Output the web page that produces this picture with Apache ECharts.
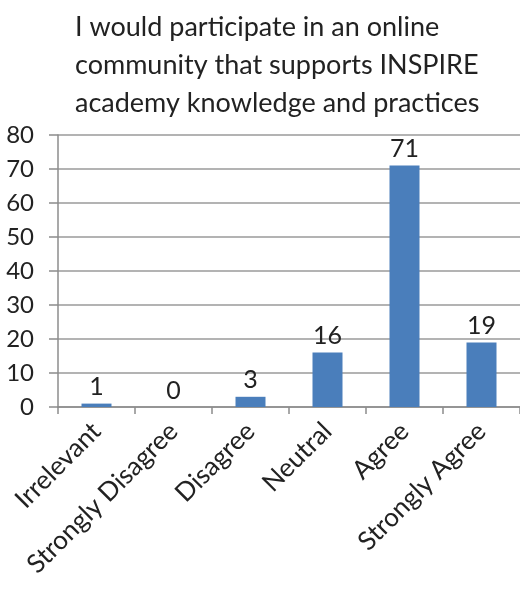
<!DOCTYPE html>
<html>
<head>
<meta charset="utf-8">
<script src="https://cdn.jsdelivr.net/npm/echarts@6/dist/echarts.min.js"></script>
<style>
  html, body { margin: 0; padding: 0; background: #fff; }
  #chart { width: 520px; height: 593px; }
</style>
</head>
<body>
<div id="chart"></div>
<script>
// Survey responses per answer option
const categories = ['Irrelevant', 'Strongly Disagree', 'Disagree', 'Neutral', 'Agree', 'Strongly Agree'];
const responses = [1, 0, 3, 16, 71, 19];
const yTicks = { min: 0, max: 80, interval: 10 };
const titleLines = [
  'I would participate in an online',
  'community that supports INSPIRE',
  'academy knowledge and practices'
];

const FONT = 'Lato, "Open Sans", sans-serif';
const chart = echarts.init(document.getElementById('chart'));

chart.setOption({
  animation: false,
  title: {
    text: titleLines.join('\n'),
    left: 70,
    top: 3,
    textAlign: 'left',
    textStyle: {
      fontFamily: FONT,
      fontWeight: 'normal',
      fontSize: 27,
      lineHeight: 38,
      color: '#222'
    }
  },
  grid: {
    left: 58,
    right: -2,
    top: 135,
    bottom: 186,
    containLabel: false
  },
  xAxis: {
    type: 'category',
    data: categories,
    axisLine: { lineStyle: { color: '#8c8c8c', width: 1.5 } },
    axisTick: { show: true, length: 7, inside: false, lineStyle: { color: '#8c8c8c', width: 1.5 } },
    axisLabel: {
      rotate: 45,
      interval: 0,
      margin: 20,
      fontFamily: FONT,
      fontSize: 26,
      color: '#222',
      padding: [0, 0, 0, 0]
    }
  },
  yAxis: {
    type: 'value',
    min: yTicks.min,
    max: yTicks.max,
    interval: yTicks.interval,
    axisLine: { show: true, lineStyle: { color: '#8c8c8c', width: 1.5 } },
    axisTick: { show: true, length: 9, lineStyle: { color: '#8c8c8c', width: 1.5 } },
    splitLine: { lineStyle: { color: '#9a9a9a', width: 1.5 } },
    axisLabel: {
      margin: 24,
      fontFamily: FONT,
      fontSize: 24,
      color: '#222'
    }
  },
  series: [{
    type: 'bar',
    data: responses,
    barWidth: 30,
    itemStyle: { color: '#4a7ebb' },
    label: {
      show: true,
      position: 'top',
      distance: 4,
      fontFamily: FONT,
      fontSize: 25,
      color: '#222'
    }
  }]
});
</script>
</body>
</html>
